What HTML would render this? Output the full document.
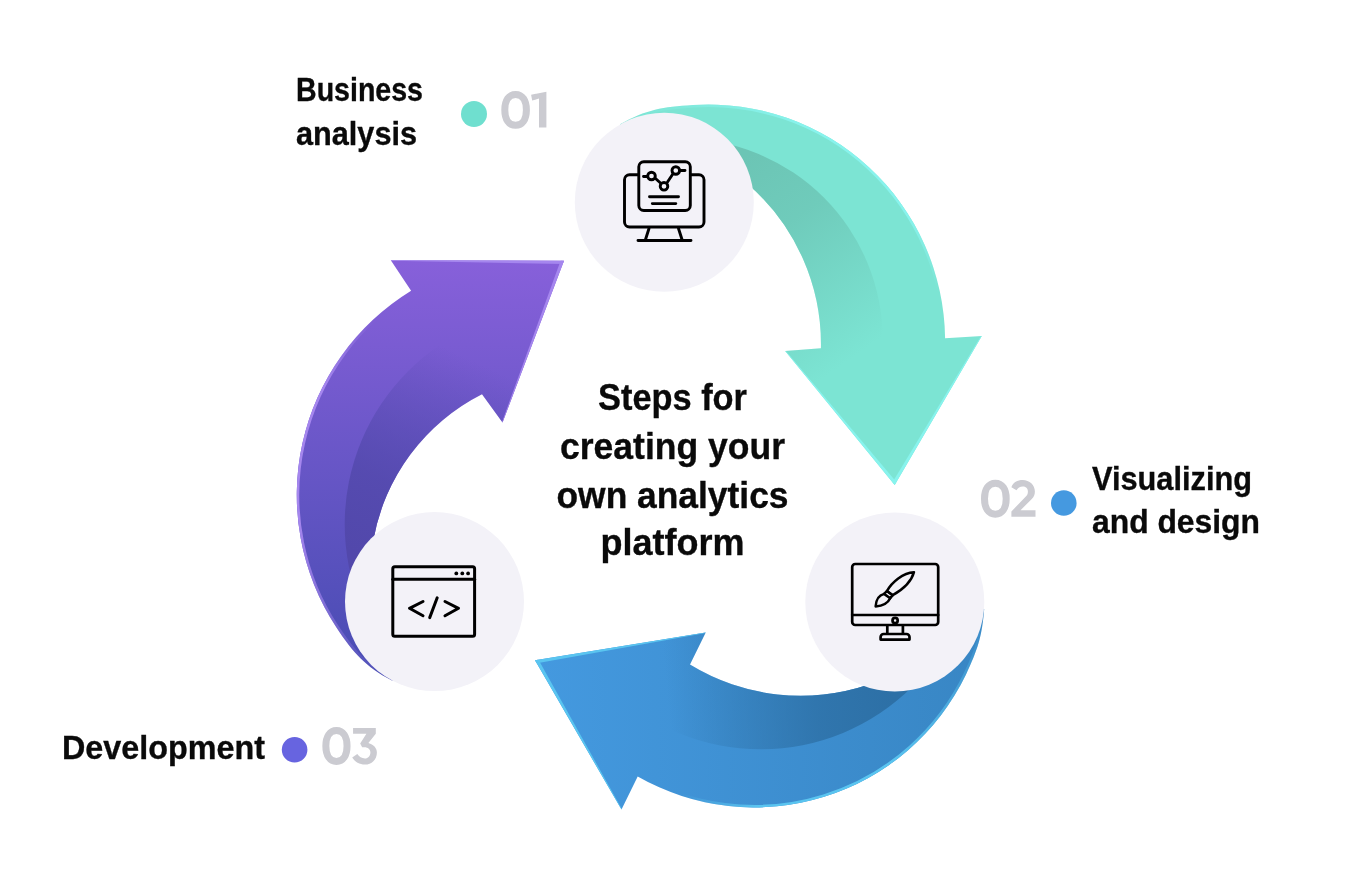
<!DOCTYPE html>
<html><head><meta charset="utf-8"><style>
html,body{margin:0;padding:0;background:#fff;}
body{width:1360px;height:880px;overflow:hidden;}
svg{display:block;}
.t{opacity:0.999;will-change:transform;}
</style></head><body>
<svg width="1360" height="880" viewBox="0 0 1360 880">
<defs>
<linearGradient id="h0" gradientUnits="userSpaceOnUse" x1="620.0" y1="124.3" x2="945.1" y2="338.2"><stop offset="0" stop-color="#88f3ed" stop-opacity="0"/><stop offset="0.2" stop-color="#88f3ed" stop-opacity="0.6"/><stop offset="0.4" stop-color="#88f3ed"/><stop offset="0.75" stop-color="#88f3ed"/><stop offset="0.92" stop-color="#88f3ed" stop-opacity="0"/></linearGradient>
<linearGradient id="m0" gradientUnits="userSpaceOnUse" x1="700" y1="100" x2="900" y2="480"><stop offset="0" stop-color="#7ce4d3"/><stop offset="1" stop-color="#7ce4d3"/></linearGradient>
<linearGradient id="b0" gradientUnits="userSpaceOnUse" x1="755.0" y1="150.0" x2="885.0" y2="335.0"><stop offset="0" stop-color="#6cc5b5"/><stop offset="0.35" stop-color="#6cc5b5" stop-opacity="0.8"/><stop offset="1" stop-color="#6cc5b5" stop-opacity="0"/></linearGradient>
<clipPath id="c0"><path d="M620.0 124.3 C646.3 109.4 662.9 107.0 693.0 105.0 A236.7 236.7 0 0 1 945.1 338.2 L981.8 335.9 L894.7 484.9 L785.2 351.1 L820.9 348.2 A212.1 212.1 0 0 0 749.1 185.2 L664.3 202.3 Z"/></clipPath>
<linearGradient id="h1" gradientUnits="userSpaceOnUse" x1="984.2" y1="609.0" x2="637.7" y2="776.4"><stop offset="0" stop-color="#5ac5f0" stop-opacity="0"/><stop offset="0.2" stop-color="#5ac5f0" stop-opacity="0.6"/><stop offset="0.4" stop-color="#5ac5f0"/><stop offset="0.75" stop-color="#5ac5f0"/><stop offset="0.92" stop-color="#5ac5f0" stop-opacity="0"/></linearGradient>
<linearGradient id="m1" gradientUnits="userSpaceOnUse" x1="540" y1="0" x2="985" y2="0"><stop offset="0" stop-color="#4499df"/><stop offset="1" stop-color="#3886c4"/></linearGradient>
<linearGradient id="b1" gradientUnits="userSpaceOnUse" x1="895.2" y1="706.3" x2="670.0" y2="726.4"><stop offset="0" stop-color="#2d70a6"/><stop offset="0.35" stop-color="#2d70a6" stop-opacity="0.8"/><stop offset="1" stop-color="#2d70a6" stop-opacity="0"/></linearGradient>
<clipPath id="c1"><path d="M984.2 609.0 C982.1 636.1 977.7 649.9 966.0 674.4 A234.9 234.9 0 0 1 637.7 776.4 L621.5 809.6 L535.0 660.2 L705.7 632.5 L690.0 664.6 A212.2 212.2 0 0 0 868.8 684.5 L894.8 602.0 Z"/></clipPath>
<linearGradient id="h2" gradientUnits="userSpaceOnUse" x1="392.4" y1="680.8" x2="411.1" y2="290.7"><stop offset="0" stop-color="#a586ee" stop-opacity="0"/><stop offset="0.2" stop-color="#a586ee" stop-opacity="0.6"/><stop offset="0.4" stop-color="#a586ee"/><stop offset="0.75" stop-color="#a586ee"/><stop offset="0.92" stop-color="#a586ee" stop-opacity="0"/></linearGradient>
<linearGradient id="m2" gradientUnits="userSpaceOnUse" x1="0" y1="262" x2="0" y2="690"><stop offset="0" stop-color="#8760da"/><stop offset="1" stop-color="#454bb1"/></linearGradient>
<linearGradient id="b2" gradientUnits="userSpaceOnUse" x1="343.3" y1="549.5" x2="438.5" y2="344.4"><stop offset="0" stop-color="#5248ab"/><stop offset="0.35" stop-color="#5248ab" stop-opacity="0.8"/><stop offset="1" stop-color="#5248ab" stop-opacity="0"/></linearGradient>
<clipPath id="c2"><path d="M392.4 680.8 C365.0 666.2 353.4 653.1 336.3 627.2 A240.1 240.1 0 0 1 411.1 290.7 L390.8 260.2 L564.0 260.7 L502.5 422.6 L482.0 394.2 A203.4 203.4 0 0 0 373.3 540.5 L434.5 601.6 Z"/></clipPath>
</defs>
<rect width="1360" height="880" fill="#fff"/>
<path d="M620.0 124.3 C646.3 109.4 662.9 107.0 693.0 105.0 A236.7 236.7 0 0 1 945.1 338.2 L981.8 335.9 L894.7 484.9 L785.2 351.1 L820.9 348.2 A212.1 212.1 0 0 0 749.1 185.2 L664.3 202.3 Z" fill="url(#m0)"/>
<circle cx="681.7" cy="339.7" r="201" fill="url(#b0)" clip-path="url(#c0)"/>
<path d="M620.0 124.3 C646.3 109.4 662.9 107.0 693.0 105.0 A236.7 236.7 0 0 1 945.1 338.2" fill="none" stroke="url(#h0)" stroke-width="5" clip-path="url(#c0)"/>
<path d="M896.4 485.9 L983.5 336.9 L981.3 335.6 L891.9 483.3 Z" fill="#88f3ed" clip-path="url(#c0)"/>
<path d="M893.2 486.2 L783.7 352.4 L785.7 350.7 L897.2 482.9 Z" fill="#88f3ed" clip-path="url(#c0)"/>
<path d="M984.2 609.0 C982.1 636.1 977.7 649.9 966.0 674.4 A234.9 234.9 0 0 1 637.7 776.4 L621.5 809.6 L535.0 660.2 L705.7 632.5 L690.0 664.6 A212.2 212.2 0 0 0 868.8 684.5 L894.8 602.0 Z" fill="url(#m1)"/>
<circle cx="760.8" cy="534.4" r="214.9" fill="url(#b1)" clip-path="url(#c1)"/>
<path d="M984.2 609.0 C982.1 636.1 977.7 649.9 966.0 674.4 A234.9 234.9 0 0 1 637.7 776.4" fill="none" stroke="url(#h1)" stroke-width="5" clip-path="url(#c1)"/>
<path d="M533.3 661.2 L619.8 810.6 L622.0 809.3 L537.8 658.6 Z" fill="#5ac5f0" clip-path="url(#c1)"/>
<path d="M534.7 658.2 L705.4 630.5 L705.8 633.1 L535.5 663.4 Z" fill="#5ac5f0" clip-path="url(#c1)"/>
<path d="M392.4 680.8 C365.0 666.2 353.4 653.1 336.3 627.2 A240.1 240.1 0 0 1 411.1 290.7 L390.8 260.2 L564.0 260.7 L502.5 422.6 L482.0 394.2 A203.4 203.4 0 0 0 373.3 540.5 L434.5 601.6 Z" fill="url(#m2)"/>
<circle cx="561.1" cy="524.3" r="216.4" fill="url(#b2)" clip-path="url(#c2)"/>
<path d="M392.4 680.8 C365.0 666.2 353.4 653.1 336.3 627.2 A240.1 240.1 0 0 1 411.1 290.7" fill="none" stroke="url(#h2)" stroke-width="5" clip-path="url(#c2)"/>
<path d="M564.0 258.7 L390.8 258.2 L390.8 260.8 L564.0 263.9 Z" fill="#a586ee" clip-path="url(#c2)"/>
<path d="M565.9 261.4 L504.4 423.3 L501.9 422.4 L561.0 259.6 Z" fill="#a586ee" clip-path="url(#c2)"/>
<circle cx="664.3" cy="202.3" r="89.5" fill="#f3f2f8"/>
<circle cx="894.8" cy="602.0" r="89.5" fill="#f3f2f8"/>
<circle cx="434.5" cy="601.6" r="89.5" fill="#f3f2f8"/>
<g fill="none" stroke="#000" stroke-width="2.9" stroke-linecap="round" stroke-linejoin="round">
  <path d="M637.8 174.8 H629.5 a5 5 0 0 0 -5 5 V222 a5 5 0 0 0 5 5 H699 a5 5 0 0 0 5 -5 V179.8 a5 5 0 0 0 -5 -5 H691.3"/>
  <rect x="638.8" y="161.7" width="51.5" height="48.8" rx="5"/>
  <path d="M649 228.5 L645.5 239.5 M678.5 228.5 L682 239.5 M638 240.5 H691"/>
  <path d="M643.5 176.5 H647 M655.5 178.5 L660.5 183 M667.5 182 L672.5 174.5 M679.5 170.5 H685"/>
  <circle cx="651.5" cy="176" r="3.8"/><circle cx="664" cy="186.3" r="3.8"/><circle cx="675.8" cy="170.5" r="3.8"/>
  <path d="M649.5 196.8 H678.5 M652.3 203.6 H675.8"/>
</g>
<g fill="none" stroke="#000" stroke-width="2.7" stroke-linecap="round" stroke-linejoin="round">
  <rect x="852.2" y="564" width="86" height="61" rx="3"/>
  <path d="M852.2 615 H938.2"/>
  <circle cx="895.1" cy="620.4" r="2.6"/>
  <path d="M887.3 626 V633.5 M902.9 626 V633.5"/>
  <path d="M880.6 639.6 V637 a3 3 0 0 1 3 -3 H906.5 a3 3 0 0 1 3 3 V639.6 Z"/>
</g>
<g fill="none" stroke="#000" stroke-width="2.5" stroke-linecap="round" stroke-linejoin="round">
  <path d="M913.97 572.16 C903 572.8 892 582 886.87 591.07 L892.75 595.16 C902 590 911 583 913.97 572.16 Z"/>
  <path d="M886.87 591.07 L892.75 595.16 L890.19 598.23 L884.06 593.89 Z"/>
  <path d="M884.06 593.89 C879 595.2 876 600 875.62 606.41 C881 606 887.5 604 890.19 598.23"/>
</g>
<g fill="none" stroke="#000" stroke-width="3" stroke-linecap="round" stroke-linejoin="round">
  <rect x="392.8" y="566.7" width="81.8" height="69.6" rx="2"/>
  <path d="M392.8 579.3 H474.6"/>
  <path d="M423 601.5 L409.5 608.3 L423 615.8 M437.2 597.8 L429.7 617.6 M445 601.5 L458.5 608.3 L445 615.8"/>
</g>
<g fill="#000"><circle cx="456.3" cy="573.4" r="1.9"/><circle cx="462.3" cy="573.4" r="1.9"/><circle cx="468.1" cy="573.4" r="1.9"/></g>

<g class="t" font-family="Liberation Sans" font-weight="bold" fill="#0a0a0a" stroke="#0a0a0a" stroke-width="0.35">
  <text x="296" y="100.8" font-size="33.4" textLength="127" lengthAdjust="spacingAndGlyphs">Business</text>
  <text x="296" y="145" font-size="33.4" textLength="121" lengthAdjust="spacingAndGlyphs">analysis</text>
  <text x="672.5" y="409.8" font-size="36.3" text-anchor="middle" textLength="149" lengthAdjust="spacingAndGlyphs">Steps for</text>
  <text x="672.5" y="458.6" font-size="36.3" text-anchor="middle" textLength="225" lengthAdjust="spacingAndGlyphs">creating your</text>
  <text x="672.5" y="507.5" font-size="36.3" text-anchor="middle" textLength="232" lengthAdjust="spacingAndGlyphs">own analytics</text>
  <text x="672.5" y="555" font-size="36.3" text-anchor="middle" textLength="144" lengthAdjust="spacingAndGlyphs">platform</text>
  <text x="1092" y="490.3" font-size="32.5" textLength="160" lengthAdjust="spacingAndGlyphs">Visualizing</text>
  <text x="1092" y="533.3" font-size="32.5" textLength="168" lengthAdjust="spacingAndGlyphs">and design</text>
  <text x="62" y="758.8" font-size="33.4" textLength="203" lengthAdjust="spacingAndGlyphs">Development</text>
</g>
<g fill="none" stroke="#cbcbd1" stroke-width="7">
  <path d="M504.80 109.90 C504.80 100.32 508.90 94.45 515.60 94.45 C522.30 94.45 526.40 100.32 526.40 109.90 C526.40 119.48 522.30 125.35 515.60 125.35 C508.90 125.35 504.80 119.48 504.80 109.90 Z"/>
  <path d="M984.50 498.70 C984.50 489.12 988.62 483.25 995.35 483.25 C1002.08 483.25 1006.20 489.12 1006.20 498.70 C1006.20 508.28 1002.08 514.15 995.35 514.15 C988.62 514.15 984.50 508.28 984.50 498.70 Z"/>
  <path d="M325.85 746.00 C325.85 736.42 329.88 730.55 336.45 730.55 C343.02 730.55 347.05 736.42 347.05 746.00 C347.05 755.58 343.02 761.45 336.45 761.45 C329.88 761.45 325.85 755.58 325.85 746.00 Z"/>
</g>
<g fill="#cbcbd1">
  <path d="M353.07 727.95 H375.8 V733.64 L368.4 743 C373.5 744.5 376.9 748 376.9 752.4 C376.9 759.5 371.5 764.6 365 764.6 C359.5 764.6 355 761.8 352.2 757.5 L357.3 754.1 C359 756.8 361.8 758.4 365 758.4 C368 758.4 370.4 755.8 370.4 752.4 C370.4 749.5 368 747.3 364.5 747.3 C363.5 747.3 362.6 747.3 362.16 747.27 L360.17 743.58 L366.42 733.64 H353.07 Z"/>
  <path d="M531.1 94.8 L546.4 91.7 L546.4 127.6 L539.0 127.6 L539.0 98.6 L532.2 100.6 Z"/>
  <path d="M1011.4 487.2 C1013 482.5 1017.5 480 1022.7 480 C1029.5 480 1034.9 485 1034.9 491.5 C1034.9 494.5 1033.8 497 1031.8 499 L1020.5 510.2 H1035.5 V516.8 H1011.4 V511.4 L1026.3 496 C1027.3 495 1027.9 493.5 1027.9 491.5 C1027.9 488.5 1025.7 486.6 1022.7 486.6 C1020 486.6 1017.8 488 1016.5 490.3 Z"/>
</g>
<circle cx="474" cy="114" r="13" fill="#6fdfcf"/>
<circle cx="1063.8" cy="503" r="12.8" fill="#4599e0"/>
<circle cx="294.6" cy="749.7" r="12.8" fill="#6764e0"/>

</svg>
</body></html>
